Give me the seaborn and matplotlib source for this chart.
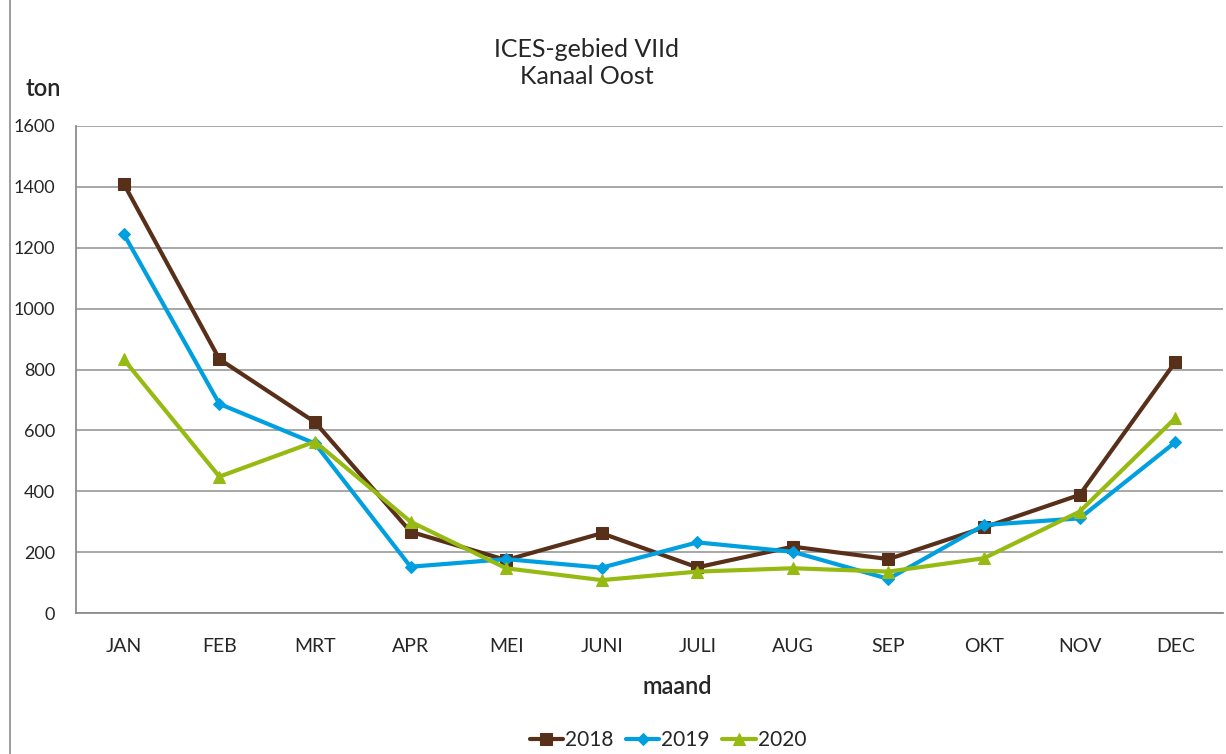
import numpy as np
import pandas as pd
import seaborn as sns
import matplotlib.pyplot as plt
from matplotlib.patches import Rectangle

# Data (ton per month)
months = ["JAN", "FEB", "MRT", "APR", "MEI", "JUNI", "JULI", "AUG", "SEP", "OKT", "NOV", "DEC"]
y2018 = [1410, 834, 627, 267, 174, 262, 150, 218, 177, 281, 388, 824]
y2019 = [1245, 687, 557, 152, 177, 149, 232, 201, 112, 289, 311, 561]
y2020 = [833, 448, 563, 300, 147, 108, 136, 147, 136, 180, 333, 640]
years = ["2018", "2019", "2020"]

df = pd.DataFrame({
    "maand": months * 3,
    "pos": list(range(12)) * 3,
    "ton": y2018 + y2019 + y2020,
    "jaar": np.repeat(years, 12),
})

sns.set_style("white")
plt.rcParams["font.family"] = ["Lato", "DejaVu Sans"]

palette = {"2018": "#58301a", "2019": "#009fdf", "2020": "#97ba12"}
markers = {"2018": "s", "2019": "D", "2020": "^"}
msize = {"2018": 9, "2019": 6.5, "2020": 9}

fig = plt.figure(figsize=(12.26, 7.54), dpi=100)
ax = fig.add_axes([76 / 1226, 1 - 613 / 754, 1147 / 1226, 487 / 754])

for yr in years:
    sub = df[df["jaar"] == yr]
    sns.lineplot(data=sub, x="pos", y="ton", ax=ax, color=palette[yr],
                 marker=markers[yr], markersize=msize[yr], markeredgecolor=palette[yr],
                 linewidth=3, label=yr)

ax.set_xlim(-0.5, 11.5)
ax.set_ylim(0, 1600)
ax.set_yticks(np.arange(0, 1601, 200))
ax.yaxis.grid(True, color="#a0a0a0", linewidth=1.3)
ax.set_axisbelow(True)

ax.set_xticks(range(12))
ax.set_xticklabels(months)
ax.set_xticks(np.arange(-0.5, 12, 1), minor=True)
ax.tick_params(axis="x", which="major", length=0, pad=18, labelsize=14)
ax.tick_params(axis="x", which="minor", length=7, width=1.3, color="#8c8c8c", direction="out")
ax.tick_params(axis="y", length=7, width=1.3, color="#8c8c8c", direction="out", labelsize=13, pad=8)

for s in ["top", "right"]:
    ax.spines[s].set_visible(False)
for s in ["left", "bottom"]:
    ax.spines[s].set_color("#8c8c8c")
    ax.spines[s].set_linewidth(1.3)

ax.set_xlabel("")
ax.set_ylabel("")
fig.text(677 / 1226, 1 - 686 / 754, "maand", fontsize=17, fontweight=600, ha="center", va="center")
fig.text(43 / 1226, 1 - 88 / 754, "ton", fontsize=17, fontweight=600, ha="center", va="center")
fig.text(587 / 1226, 1 - 63 / 754, "ICES-gebied VIId\nKanaal Oost", fontsize=18,
         ha="center", va="center", linespacing=1.25)

ax.legend(loc="center", bbox_to_anchor=(668 / 1226, 1 - 740 / 754), bbox_transform=fig.transFigure,
          ncol=3, frameon=False, fontsize=15, handlelength=1.6, handletextpad=0.1,
          columnspacing=0.6)

fig.patches.append(Rectangle((10 / 1226, -0.01), 1.2, 1.2, transform=fig.transFigure,
                             fill=False, edgecolor="#8c8c8c", linewidth=1.2))

fig.savefig("out.png", dpi=100)
